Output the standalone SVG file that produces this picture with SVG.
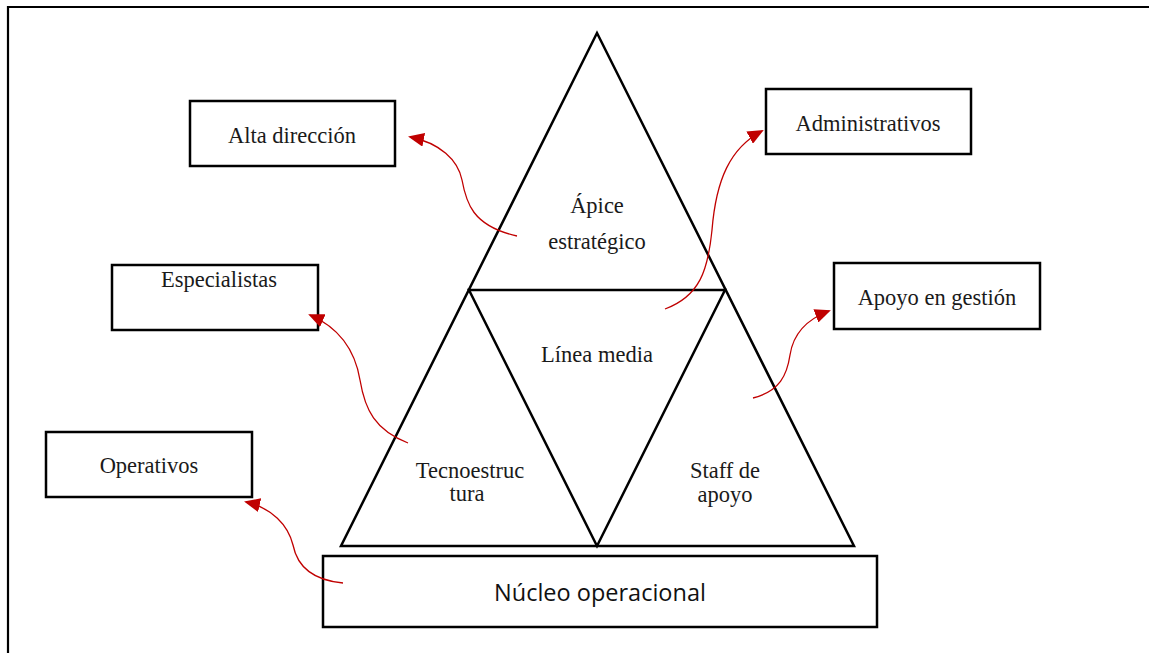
<svg xmlns="http://www.w3.org/2000/svg" width="1149" height="653" viewBox="0 0 1149 653">
  <style>
    .box { fill: #fff; stroke: #000; stroke-width: 2.5; }
    .tri { fill: none; stroke: #000; stroke-width: 2.5; stroke-linejoin: miter; }
    .lbl { font-family: "Liberation Serif", "Times New Roman", serif; font-size: 22.5px; fill: #1a1a1a; text-anchor: middle; }
    .core { font-family: "Open Sans", "Liberation Sans", sans-serif; font-size: 23.5px; fill: #111; text-anchor: middle; }
    .link { fill: none; stroke: #c00000; stroke-width: 1.3; }
  </style>
  <defs>
    <marker id="head" markerUnits="userSpaceOnUse" markerWidth="16" markerHeight="14" refX="14" refY="7" orient="auto">
      <path d="M0,0 L16,7 L0,14 Z" fill="#c00000"/>
    </marker>
  </defs>

  <rect width="1149" height="653" fill="#fff"/>
  <!-- page frame -->
  <path d="M8,653 V7 H1149" fill="none" stroke="#000" stroke-width="2.2"/>

  <!-- organisational pyramid -->
  <g id="pyramid">
    <path class="tri" d="M597,33 L854,546 L341,546 Z"/>
    <path class="tri" d="M469,290 L725,290 L597,546 Z"/>
  </g>

  <g id="apice">
    <text class="lbl" x="597" y="213">Ápice</text>
    <text class="lbl" x="597" y="249">estratégico</text>
  </g>
  <g id="linea-media">
    <text class="lbl" x="597" y="362">Línea media</text>
  </g>
  <g id="tecnoestructura">
    <text class="lbl" x="470" y="478">Tecnoestruc</text>
    <text class="lbl" x="467" y="501">tura</text>
  </g>
  <g id="staff">
    <text class="lbl" x="725" y="478">Staff de</text>
    <text class="lbl" x="725" y="502">apoyo</text>
  </g>

  <g id="nucleo">
    <rect class="box" x="323" y="556" width="554" height="71"/>
    <text class="core" x="600" y="601">Núcleo operacional</text>
  </g>

  <g id="alta-direccion">
    <rect class="box" x="190" y="101" width="205" height="65"/>
    <text class="lbl" x="292" y="143">Alta dirección</text>
  </g>
  <g id="administrativos">
    <rect class="box" x="766" y="89" width="205" height="65"/>
    <text class="lbl" x="868" y="131">Administrativos</text>
  </g>
  <g id="especialistas">
    <rect class="box" x="112" y="265" width="206" height="65"/>
    <text class="lbl" x="219" y="287">Especialistas</text>
  </g>
  <g id="apoyo-gestion">
    <rect class="box" x="834" y="263" width="206" height="66"/>
    <text class="lbl" x="937" y="305">Apoyo en gestión</text>
  </g>
  <g id="operativos">
    <rect class="box" x="46" y="432" width="206" height="65"/>
    <text class="lbl" x="149" y="473">Operativos</text>
  </g>

  <g id="connectors">
    <path class="link" marker-end="url(#head)" d="M517,236 C472,226 466,202 462,180 C458,160 440,143 410,137"/>
    <path class="link" marker-end="url(#head)" d="M665,309 C700,296 708,270 712,230 C716,180 730,148 762,131"/>
    <path class="link" marker-end="url(#head)" d="M408,443 C375,430 365,410 360,380 C355,350 340,328 310,315"/>
    <path class="link" marker-end="url(#head)" d="M753,398 C780,391 787,375 790,355 C793,335 805,320 829,311"/>
    <path class="link" marker-end="url(#head)" d="M343,583 C310,580 297,565 293,545 C288,525 272,508 246,502"/>
  </g>
</svg>
